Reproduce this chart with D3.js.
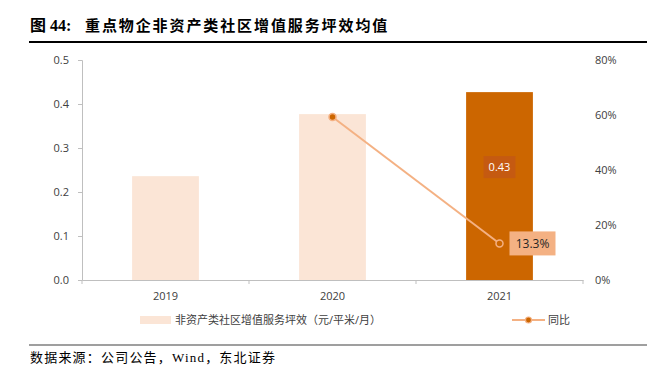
<!DOCTYPE html>
<html><head><meta charset="utf-8">
<script src="https://cdn.jsdelivr.net/npm/d3@7/dist/d3.min.js"></script>
<style>body{margin:0;background:#fff}svg{display:block}</style>
</head><body>
<svg id="c" width="656" height="369"></svg>
<script>
const categories = ["2019", "2020", "2021"];
const barValues = [0.236, 0.377, 0.427];
const barLabels = [null, null, "0.43"];
const yoyValues = [null, 0.593, 0.133];
const yoyLabels = [null, null, "13.3%"];
const leftTicks = [0, 0.1, 0.2, 0.3, 0.4, 0.5];
const rightTicks = [0, 0.2, 0.4, 0.6, 0.8];
const barName = "非资产类社区增值服务坪效（元/平米/月）";
const lineName = "同比";
const titleNo = "图 44:";
const title = "重点物企非资产类社区增值服务坪效均值";
const source = "数据来源：公司公告，Wind，东北证券";

const svg = d3.select("#c");
const sans = "'Open Sans','Noto Sans CJK SC',sans-serif";
const serif = "'Liberation Serif','Noto Sans CJK SC',serif";
const L = 82, R = 583, T = 60, B = 280;

// title
svg.append("text").attr("x", 30).attr("y", 31).text(titleNo)
  .attr("font-family", serif).attr("font-weight", "bold").attr("font-size", 16).attr("fill", "#000");
svg.append("text").attr("x", 85).attr("y", 31).text(title)
  .attr("font-family", serif).attr("font-weight", "bold").attr("font-size", 15)
  .attr("letter-spacing", 1.9).attr("fill", "#000");
svg.append("line").attr("x1", 29).attr("x2", 647).attr("y1", 42).attr("y2", 42)
  .attr("stroke", "#000").attr("stroke-width", 2);

const x = d3.scaleBand().domain(categories).range([L, R]).paddingInner(0.6).paddingOuter(0.3);
const xb = d3.scaleBand().domain(categories).range([L, R]);
const y = d3.scaleLinear().domain([0, 0.5]).range([B, T]);
const y2 = d3.scaleLinear().domain([0, 0.8]).range([B, T]);

// left axis
const gl = svg.append("g").attr("transform", `translate(${L},0)`)
  .call(d3.axisLeft(y).tickValues(leftTicks).tickFormat(d3.format(".1f")).tickSize(4).tickPadding(9));
gl.select(".domain").attr("stroke", "#BFBFBF");
gl.selectAll(".tick line").attr("stroke", "#BFBFBF");
gl.selectAll("text").attr("font-family", sans).attr("font-size", 11).attr("fill", "#404040");

// right axis (labels only)
const gr = svg.append("g").attr("transform", `translate(${R},0)`)
  .call(d3.axisRight(y2).tickValues(rightTicks).tickFormat(d3.format(".0%")).tickSize(0).tickPadding(12));
gr.select(".domain").remove();
gr.selectAll("text").attr("font-family", sans).attr("font-size", 11).attr("fill", "#404040");

// bars
const barColors = ["#FBE5D6", "#FBE5D6", "#CC6600"];
svg.append("g").selectAll("rect").data(categories).join("rect")
  .attr("x", d => x(d)).attr("width", x.bandwidth())
  .attr("y", (d, i) => y(barValues[i])).attr("height", (d, i) => B - y(barValues[i]))
  .attr("fill", (d, i) => barColors[i]);

// bottom axis
const gb = svg.append("g").attr("transform", `translate(0,${B})`)
  .call(d3.axisBottom(xb).tickSize(0).tickPadding(12));
gb.select(".domain").attr("stroke", "#BFBFBF");
gb.selectAll("text").attr("font-family", sans).attr("font-size", 11).attr("fill", "#404040");
const bounds = [L, ...categories.map(c => xb(c) + xb.bandwidth())];
svg.append("g").selectAll("line").data(bounds).join("line")
  .attr("x1", d => d).attr("x2", d => d).attr("y1", B).attr("y2", B + 4)
  .attr("stroke", "#BFBFBF");

// line
const pts = categories.map((c, i) => ({c, v: yoyValues[i], l: yoyLabels[i]})).filter(d => d.v != null);
const cx = d => x(d.c) + x.bandwidth() / 2;
svg.append("path").datum(pts)
  .attr("d", d3.line().x(cx).y(d => y2(d.v)))
  .attr("fill", "none").attr("stroke", "#F4B183").attr("stroke-width", 2);
svg.append("g").selectAll("circle").data(pts).join("circle")
  .attr("cx", cx).attr("cy", d => y2(d.v)).attr("r", 3.5)
  .attr("fill", "#CC6600").attr("stroke", "#F4B183").attr("stroke-width", 1.5);

// bar labels
categories.forEach((c, i) => {
  if (!barLabels[i]) return;
  const mx = x(c) + x.bandwidth() / 2, my = y(barValues[i]) + 75;
  svg.append("rect").attr("x", mx - 16).attr("y", my - 11).attr("width", 32).attr("height", 22).attr("fill", "#C55A11");
  svg.append("text").attr("x", mx).attr("y", my + 4).attr("text-anchor", "middle").text(barLabels[i])
    .attr("font-family", sans).attr("font-size", 11).attr("fill", "#fff");
});
pts.forEach(p => {
  if (!p.l) return;
  const px = cx(p) + 10, py = y2(p.v);
  svg.append("rect").attr("x", px).attr("y", py - 12).attr("width", 46).attr("height", 24).attr("fill", "#F4B183");
  svg.append("text").attr("x", px + 23).attr("y", py + 4.5).attr("text-anchor", "middle").text(p.l)
    .attr("font-family", sans).attr("font-size", 12).attr("fill", "#262626");
});

// legend
const ly = 320;
svg.append("rect").attr("x", 140).attr("y", ly - 4).attr("width", 31).attr("height", 8).attr("fill", "#FBE5D6");
svg.append("text").attr("x", 175).attr("y", ly + 4).text(barName)
  .attr("font-family", sans).attr("font-size", 11).attr("fill", "#404040");
svg.append("line").attr("x1", 512).attr("x2", 545).attr("y1", ly).attr("y2", ly)
  .attr("stroke", "#F4B183").attr("stroke-width", 2);
svg.append("circle").attr("cx", 528.5).attr("cy", ly).attr("r", 3)
  .attr("fill", "#CC6600").attr("stroke", "#F4B183").attr("stroke-width", 1.2);
svg.append("text").attr("x", 548).attr("y", ly + 4).text(lineName)
  .attr("font-family", sans).attr("font-size", 11).attr("fill", "#404040");

// source
svg.append("line").attr("x1", 29).attr("x2", 647).attr("y1", 345).attr("y2", 345)
  .attr("stroke", "#7F7F7F").attr("stroke-width", 1.5);
svg.append("text").attr("x", 30).attr("y", 362).text(source)
  .attr("font-family", serif).attr("font-size", 13).attr("letter-spacing", 1.2).attr("fill", "#000");
</script>
</body></html>
